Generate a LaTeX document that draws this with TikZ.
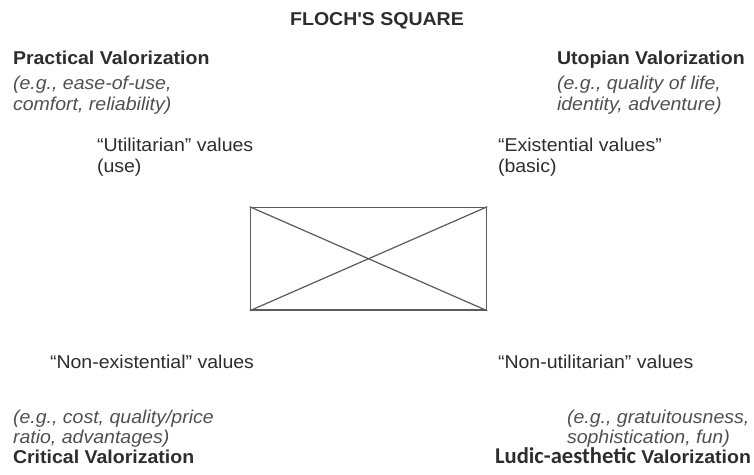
\documentclass[tikz,border=0pt]{standalone}
\usepackage{fontspec}
\setmainfont{Liberation Sans}[FakeStretch=1.05]
\newfontfamily\calibrifont{Carlito}
\usepackage{tikz}
\definecolor{textgray}{RGB}{45,45,45}
\definecolor{examplegray}{RGB}{80,80,80}
\definecolor{linegray}{RGB}{90,90,90}

\begin{document}
\begin{tikzpicture}[x=1pt,y=-1pt,
 txt/.style={inner sep=0pt,outer sep=0pt,align=left,text=textgray,font=\fontsize{18.6}{20.3}\selectfont},
 ex/.style={txt,text=examplegray,font=\fontsize{18.6}{20.3}\selectfont\itshape},
 sqbox/.style={draw=linegray,line width=1.5pt,minimum width=236pt,minimum height=102.5pt,inner sep=0pt},
 diag/.style={draw=linegray,line width=1.2pt}
]
\useasboundingbox (0,0) rectangle (754,474);
\node[txt,anchor=base,font=\fontsize{18.6}{20.3}\selectfont\bfseries] (title) at (377,25) {FLOCH\textquotesingle S SQUARE};
\node[txt,anchor=base west] (practical) at (13,110) {\textbf{Practical Valorization}\\[4.5pt]\textcolor{examplegray}{\itshape (e.g., ease-of-use,}\\\textcolor{examplegray}{\itshape comfort, reliability)}};
\node[txt,anchor=base west] (utopian) at (557,110) {\textbf{Utopian Valorization}\\[4.5pt]\textcolor{examplegray}{\itshape (e.g., quality of life,}\\\textcolor{examplegray}{\itshape identity, adventure)}};
\node[txt,anchor=base west] (utilitarian) at (97,172) {``Utilitarian'' values\\(use)};
\node[txt,anchor=base west] (existential) at (498,172) {``Existential values''\\(basic)};
% the square
\node[sqbox] (square) at (368.5,258.75) {};
\draw[diag] (square.north west) -- (square.south east);
\draw[diag] (square.south west) -- (square.north east);
\node[txt,anchor=base west] (nonexist) at (50,368.7) {``Non-existential'' values};
\node[txt,anchor=base west] (nonutil) at (498,368.7) {``Non-utilitarian'' values};
\node[ex,anchor=base west] (criticalex) at (13,443.5) {(e.g., cost, quality/price\\ratio, advantages)};
\node[txt,anchor=base west,font=\fontsize{18.6}{20.3}\selectfont\bfseries] (critical) at (13,463.5) {Critical Valorization};
\node[ex,anchor=base west] (ludicex) at (567,443.5) {(e.g., gratuitousness,\\sophistication, fun)};
\node[txt,anchor=base east] (ludic) at (751,463.5) {{\calibrifont\fontsize{22.6}{24}\selectfont\bfseries Ludic-aesthetic} \textbf{Valorization}};
\end{tikzpicture}
\end{document}
